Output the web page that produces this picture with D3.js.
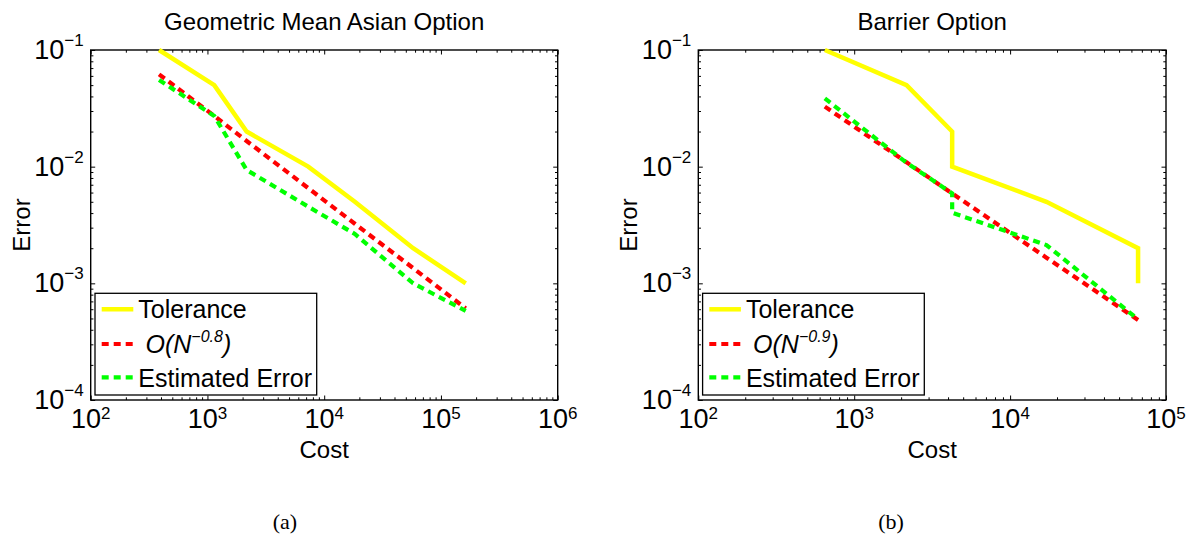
<!DOCTYPE html>
<html>
<head>
<meta charset="utf-8">
<script src="https://cdn.jsdelivr.net/npm/d3@7"></script>
<style>
  body { margin: 0; background: #fff; }
  svg { display: block; }
</style>
</head>
<body>
<svg id="fig" width="1199" height="536"></svg>
<script>
// ---- Geometric mean Asian option ----
const asianCost      = [385, 1144, 2165, 7300, 18300, 57800, 163000];
const asianTolerance = [0.1, 0.05, 0.02, 0.01, 0.005, 0.002, 0.001];
const asianRate      = [0.0619, 0.0272, 0.0166, 0.00655, 0.00324, 0.00135, 0.00061];
const asianEstimated = [0.0553, 0.0272, 0.00937, 0.00454, 0.00265, 0.0010, 0.00058];

// ---- Barrier option ----
const barrierCost      = [648, 2167, 4250, 4250, 17100, 66200, 66200];
const barrierTolerance = [0.1, 0.05, 0.02, 0.01, 0.005, 0.002, 0.001];
const barrierRate      = [0.0327, 0.0109, 0.0059, 0.0059, 0.00166, 0.000485, 0.000485];
const barrierEstimated = [0.0385, 0.0108, 0.00591, 0.00403, 0.00213, 0.000491, 0.000491];

// ---- Tick labels (powers of ten) ----
const asianCostExponents   = [2, 3, 4, 5, 6];
const barrierCostExponents = [2, 3, 4, 5];
const errorExponents       = [-1, -2, -3, -4];

const titles    = ["Geometric Mean Asian Option", "Barrier Option"];
const rateNames = ["\u22120.8", "\u22120.9"];
const captions  = ["(a)", "(b)"];

const SANS = "'Liberation Sans', Arial, Helvetica, sans-serif";
const svg = d3.select("#fig");

const panels = [
  { left: 90.7, right: 557.7, cost: asianCost, tol: asianTolerance, rate: asianRate,
    est: asianEstimated, xExp: asianCostExponents, title: titles[0], rateName: rateNames[0],
    caption: captions[0], captionX: 285 },
  { left: 698.3, right: 1166, cost: barrierCost, tol: barrierTolerance, rate: barrierRate,
    est: barrierEstimated, xExp: barrierCostExponents, title: titles[1], rateName: rateNames[1],
    caption: captions[1], captionX: 891 }
];

const TOP = 50, BOTTOM = 400;
const MAJOR = 4.5, MINOR = 2.7;

function minorValues(loExp, hiExp) {
  const v = [];
  for (let e = loExp; e < hiExp; e++)
    for (let m = 2; m <= 9; m++) v.push(m * Math.pow(10, e));
  return v;
}

function powLabel(sel, exp, supSize, supRise) {
  sel.append("tspan").text("10");
  sel.append("tspan").attr("dy", -supRise).attr("font-size", supSize)
     .text(exp < 0 ? "\u2212" + Math.abs(exp) : String(exp));
}

panels.forEach(p => {
  const xLo = d3.min(p.xExp), xHi = d3.max(p.xExp);
  const yLo = d3.min(errorExponents), yHi = d3.max(errorExponents);
  const x = d3.scaleLog().domain([10 ** xLo, 10 ** xHi]).range([p.left, p.right]);
  const y = d3.scaleLog().domain([10 ** yLo, 10 ** yHi]).range([BOTTOM, TOP]);

  const g = svg.append("g");
  const xMaj = p.xExp.map(e => 10 ** e);
  const yMaj = errorExponents.map(e => 10 ** e);
  const xMin = minorValues(xLo, xHi);
  const yMin = minorValues(yLo, yHi);

  // inward ticks on all four sides
  const axes = [
    [d3.axisBottom(x), `translate(0,${BOTTOM})`, xMaj, xMin],
    [d3.axisTop(x),    `translate(0,${TOP})`,    xMaj, xMin],
    [d3.axisLeft(y),   `translate(${p.left},0)`, yMaj, yMin],
    [d3.axisRight(y),  `translate(${p.right},0)`, yMaj, yMin]
  ];
  axes.forEach(([ax, tr, maj, mn]) => {
    [[maj, MAJOR], [mn, MINOR]].forEach(([vals, len]) => {
      const a = g.append("g").attr("transform", tr)
        .call(ax.tickValues(vals).tickSizeInner(-len).tickSizeOuter(0).tickFormat(""));
      a.select(".domain").remove();
      a.selectAll(".tick line").attr("stroke", "#000").attr("stroke-width", 1);
    });
  });

  // frame
  g.append("rect").attr("x", p.left).attr("y", TOP)
    .attr("width", p.right - p.left).attr("height", BOTTOM - TOP)
    .attr("fill", "none").attr("stroke", "#000").attr("stroke-width", 1.4);

  // x tick labels
  p.xExp.forEach(e => {
    const t = g.append("text").attr("x", x(10 ** e)).attr("y", 428)
      .attr("text-anchor", "middle").attr("font-family", SANS).attr("font-size", 27);
    powLabel(t, e, 17, 9);
  });
  // y tick labels
  errorExponents.forEach(e => {
    const t = g.append("text").attr("x", p.left - 7).attr("y", y(10 ** e) + 9)
      .attr("text-anchor", "end").attr("font-family", SANS).attr("font-size", 27);
    powLabel(t, e, 17, 13);
  });

  // axis titles
  g.append("text").attr("x", (p.left + p.right) / 2).attr("y", 458)
    .attr("text-anchor", "middle").attr("font-family", SANS).attr("font-size", 24).text("Cost");
  g.append("text").attr("transform", `translate(${p.left - 61},225) rotate(-90)`)
    .attr("text-anchor", "middle").attr("font-family", SANS).attr("font-size", 24).text("Error");
  g.append("text").attr("x", (p.left + p.right) / 2).attr("y", 30)
    .attr("text-anchor", "middle").attr("font-family", SANS).attr("font-size", 24).text(p.title);

  // series
  const line = d3.line().x(d => x(d[0])).y(d => y(d[1]));
  const series = [
    { vals: p.tol,  color: "#ffff00", dash: null },
    { vals: p.rate, color: "#ff0000", dash: "7,5" },
    { vals: p.est,  color: "#00ff00", dash: "7,5" }
  ];
  series.forEach(s => {
    g.append("path").datum(p.cost.map((c, i) => [c, s.vals[i]]))
      .attr("d", line).attr("fill", "none").attr("stroke", s.color)
      .attr("stroke-width", s.dash ? 4.2 : 4.5)
      .attr("stroke-dasharray", s.dash)
      .attr("stroke-linejoin", "miter");
  });

  // legend
  const lx = p.left + 4.3, ly = 293.3;
  const lg = g.append("g");
  lg.append("rect").attr("x", lx).attr("y", ly).attr("width", 221.7).attr("height", 101.7)
    .attr("fill", "#fff").attr("stroke", "#000").attr("stroke-width", 1.3);
  const rows = [16, 50.7, 84];
  series.forEach((s, i) => {
    lg.append("line").attr("x1", lx + 6.7).attr("x2", lx + 38.3)
      .attr("y1", ly + rows[i]).attr("y2", ly + rows[i])
      .attr("stroke", s.color).attr("stroke-width", s.dash ? 4.2 : 4.5)
      .attr("stroke-dasharray", s.dash);
  });
  lg.append("text").attr("x", lx + 43.3).attr("y", ly + 25)
    .attr("font-family", SANS).attr("font-size", 25).text("Tolerance");
  const rt = lg.append("text").attr("x", lx + 50.5).attr("y", ly + 60)
    .attr("font-family", SANS).attr("font-size", 25).attr("font-style", "italic");
  rt.append("tspan").text("O(N");
  rt.append("tspan").attr("dy", -11).attr("font-size", 16).text(p.rateName);
  rt.append("tspan").attr("dy", 11).text(")");
  lg.append("text").attr("x", lx + 43.3).attr("y", ly + 93.4)
    .attr("font-family", SANS).attr("font-size", 25).text("Estimated Error");

  // sub-figure caption
  svg.append("text").attr("x", p.captionX).attr("y", 529)
    .attr("text-anchor", "middle").attr("font-family", "'Liberation Serif', 'Times New Roman', serif")
    .attr("font-size", 22).text(p.caption);
});
</script>
</body>
</html>
